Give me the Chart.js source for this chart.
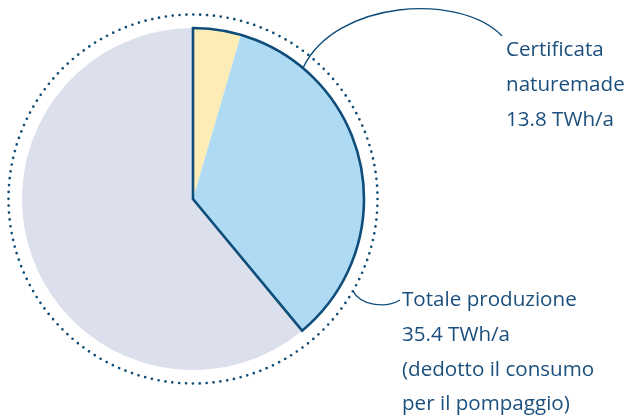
<!DOCTYPE html>
<html><head><meta charset="utf-8">
<script src="https://cdn.jsdelivr.net/npm/chart.js@4"></script>
<style>
html,body{margin:0;padding:0;background:#fff;}
#wrap{position:relative;width:629px;height:419px;overflow:hidden;}
canvas{position:absolute;left:0;top:0;}
.lbl{position:absolute;font-family:"Open Sans",sans-serif;font-size:20.6px;line-height:34.8px;color:#1b4f7d;white-space:nowrap;}
</style></head>
<body>
<div id="wrap">
<canvas id="c" width="629" height="419"></canvas>
<div class="lbl" id="l1" style="left:506px;top:31px;">Certificata<br>naturemade<br>13.8 TWh/a</div>
<div class="lbl" id="l2" style="left:402px;top:281px;">Totale produzione<br>35.4 TWh/a<br>(dedotto il consumo<br>per il pompaggio)</div>
</div>
<script>
const categories = ["Certificata (parte gialla)", "Certificata naturemade", "Non certificata"];
const values = [1.6, 12.2, 21.6];
const totalProduction = 35.4;
const certified = 13.8;
const colors = ["#fdecb6", "#aedaf3", "#dce0ec"];
const navy = "#0f4d7a";

const outlinePlugin = {
  id: "outline",
  afterDatasetsDraw(chart) {
    const meta = chart.getDatasetMeta(0);
    const a0 = meta.data[0], a1 = meta.data[1];
    const ctx = chart.ctx;
    const cx = a0.x, cy = a0.y, r = a0.outerRadius;
    ctx.save();
    ctx.beginPath();
    ctx.moveTo(cx, cy);
    ctx.arc(cx, cy, r, a0.startAngle, a1.endAngle);
    ctx.closePath();
    ctx.strokeStyle = navy;
    ctx.lineWidth = 2.6;
    ctx.lineJoin = "miter";
    ctx.stroke();
    ctx.beginPath();
    ctx.arc(cx, cy, r + 13.5, 0, Math.PI * 2);
    ctx.setLineDash([0, 6.9]);
    ctx.lineCap = "round";
    ctx.lineWidth = 2.7;
    ctx.strokeStyle = navy;
    ctx.stroke();
    ctx.setLineDash([]);
    ctx.lineCap = "butt";
    ctx.lineWidth = 1.4;
    ctx.beginPath();
    ctx.moveTo(303, 68);
    ctx.bezierCurveTo(335, 0, 460, -8, 502, 36);
    ctx.stroke();
    ctx.beginPath();
    ctx.moveTo(353, 291);
    ctx.bezierCurveTo(360, 305, 385, 309, 400, 300);
    ctx.stroke();
    ctx.restore();
  }
};

new Chart(document.getElementById("c"), {
  type: "pie",
  data: {
    labels: categories,
    datasets: [{ data: values, backgroundColor: colors, borderWidth: 0 }]
  },
  options: {
    responsive: false,
    animation: false,
    layout: { padding: { left: 22, right: 265, top: 28, bottom: 49 } },
    plugins: { legend: { display: false }, tooltip: { enabled: false } }
  },
  plugins: [outlinePlugin]
});
</script>
</body></html>
